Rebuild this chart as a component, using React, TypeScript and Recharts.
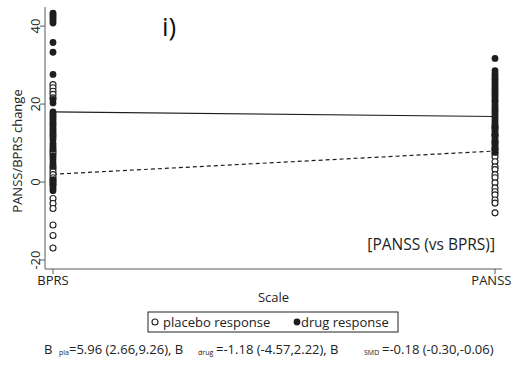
import { ScatterChart, Scatter, XAxis, YAxis } from 'recharts';

// scale positions on the x axis
const SCALES = ['BPRS', 'PANSS'];
const Y_TICKS = [-20, 0, 20, 40];

// individual study changes, BPRS column
const bprsDrug = [
  43.3, 42.8, 42.3, 41.8, 41.3, 40.8, 35.8, 33.3, 27.6, 21.2, 20.3,
  18.0, 17.5, 17.1, 16.6, 16.1, 15.5, 15.0, 14.6, 14.0, 13.5, 13.0, 12.4, 12.0,
  11.5, 10.9, 10.0, 9.5, 9.0, 8.5, 6.8, 6.3, 5.7, 5.0, 4.4, 4.0, 0.6, -0.2,
  -1.0, -1.6, -2.2,
];
const bprsPlacebo = [
  25.0, 24.2, 23.3, 22.5, 21.6, 8.0, 7.4, 3.5, 2.7, 1.9, 1.1, 0.3, -0.6,
  -4.2, -5.5, -6.8, -11.0, -13.7, -16.9,
];

// individual study changes, PANSS column
const panssDrug = [
  31.7, 28.6, 27.8, 27.2, 26.6, 26.1, 25.5, 24.9, 24.4, 23.8, 23.3, 22.7, 22.2,
  21.6, 21.0, 20.6, 20.0, 19.5, 18.9, 18.4, 17.9, 17.3, 16.8, 16.3, 15.7, 15.1,
  14.6, 14.1, 13.5, 13.0, 12.4, 11.9, 11.4, 10.8, 10.3, 9.7, 9.2, 8.6, 8.1, 7.6,
];
const panssPlacebo = [
  14.0, 12.1, 10.2, 8.5, 7.3, 6.5, 5.2, 3.9, 3.2, 1.9, 1.1, -0.2, -1.5, -2.5,
  -3.3, -4.6, -5.4, -7.9,
];

// fitted means at BPRS and PANSS
const drugFit = [18.0, 16.82];
const placeboFit = [2.0, 7.96];

const toPoints = (values: number[], scale: number) => values.map((y) => ({ x: scale, y }));
const fitPoints = (values: number[]) => values.map((y, i) => ({ x: i, y }));

const FONT = '"Open Sans", sans-serif';
const INK = '#1e1e1e';
const AXIS = '#5a5a5a';

const OpenDot = (props: any) => (
  <circle cx={props.cx} cy={props.cy} r={3} fill="#fff" stroke={INK} strokeWidth={1.1} />
);
const FilledDot = (props: any) => <circle cx={props.cx} cy={props.cy} r={3.4} fill={INK} />;
const NoDot = () => <g />;

const YTick = (props: any) => {
  const { x, y, payload } = props;
  return (
    <text
      x={x}
      y={y}
      transform={`rotate(-90 ${x} ${y})`}
      textAnchor="middle"
      fontSize={13}
      fill="#222"
      fontFamily={FONT}
    >
      {payload.value}
    </text>
  );
};

export default function App() {
  const placebo = [...toPoints(bprsPlacebo, 0), ...toPoints(panssPlacebo, 1)];
  const drug = [...toPoints(bprsDrug, 0), ...toPoints(panssDrug, 1)];

  return (
    <div style={{ position: 'absolute', left: 0, top: 0, width: 511, height: 366, background: '#fff', fontFamily: FONT }}>
      <ScatterChart width={511} height={366} margin={{ top: 7, right: 9, bottom: 0, left: 0 }}>
        <XAxis
          type="number"
          dataKey="x"
          domain={[-0.0181, 1.0158]}
          ticks={[0, 1]}
          tickFormatter={(v: number) => SCALES[v]}
          allowDataOverflow
          height={97}
          tickSize={5}
          stroke={AXIS}
          tick={{ fontSize: 13, fill: '#222', fontFamily: FONT }}
          tickLine={{ stroke: AXIS }}
          label={{ value: 'Scale', position: 'insideTop', offset: 24, fontSize: 13, fill: '#222', fontFamily: FONT }}
        />
        <YAxis
          type="number"
          dataKey="y"
          domain={[-22.3, 44.9]}
          ticks={Y_TICKS}
          allowDataOverflow
          width={45}
          tickSize={5}
          tickMargin={0}
          stroke={AXIS}
          tickLine={{ stroke: AXIS }}
          tick={<YTick />}
        />
        <Scatter data={fitPoints(drugFit)} line={{ stroke: INK, strokeWidth: 1.2 }} shape={<NoDot />} isAnimationActive={false} />
        <Scatter
          data={fitPoints(placeboFit)}
          line={{ stroke: INK, strokeWidth: 1.2, strokeDasharray: '4 3' }}
          shape={<NoDot />}
          isAnimationActive={false}
        />
        <Scatter data={placebo} shape={<OpenDot />} isAnimationActive={false} />
        <Scatter data={drug} shape={<FilledDot />} isAnimationActive={false} />
      </ScatterChart>

      <svg width={511} height={366} style={{ position: 'absolute', left: 0, top: 0, pointerEvents: 'none' }} fontFamily={FONT}>
        <text x={22} y={151} transform="rotate(-90 22 151)" textAnchor="middle" fontSize={13} fill="#222">
          PANSS/BPRS change
        </text>
        <text x={162} y={36} fontSize={26} fill="#111">i)</text>
        <text x={495} y={250} textAnchor="end" fontSize={15.5} fill="#222">[PANSS (vs BPRS)]</text>

        <rect x={148} y={312} width={250} height={20} fill="none" stroke="#222" strokeWidth={1} />
        <circle cx={155} cy={322} r={3} fill="#fff" stroke={INK} strokeWidth={1.1} />
        <text x={163} y={327} fontSize={13} fill="#222">placebo response</text>
        <circle cx={297} cy={322} r={3.4} fill={INK} />
        <text x={301} y={327} fontSize={13} fill="#222">drug response</text>

        <g fontSize={13} fill="#222">
          <text x={44} y={354}>B</text>
          <text x={59} y={355} fontSize={7}>pla</text>
          <text x={69} y={354}>=5.96 (2.66,9.26), B</text>
          <text x={198} y={355} fontSize={7}>drug</text>
          <text x={216} y={354}>=-1.18 (-4.57,2.22), B</text>
          <text x={364} y={355} fontSize={7}>SMD</text>
          <text x={382} y={354}>=-0.18 (-0.30,-0.06)</text>
        </g>
      </svg>
    </div>
  );
}
